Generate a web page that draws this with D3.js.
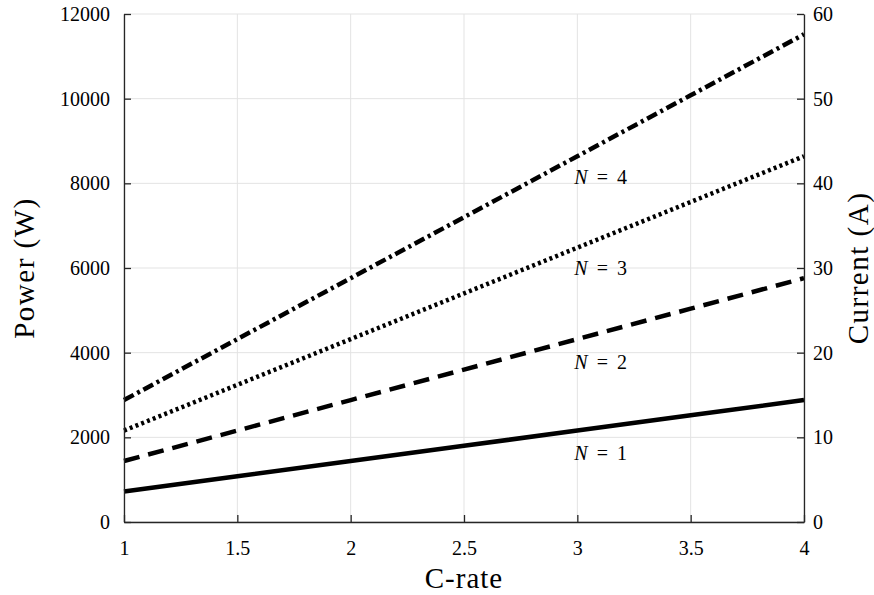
<!DOCTYPE html>
<html>
<head>
<meta charset="utf-8">
<script src="https://cdn.jsdelivr.net/npm/d3@7"></script>
<style>
  body { margin: 0; background: #fff; }
  svg text { font-family: 'Liberation Serif', 'Times New Roman', Times, 'DejaVu Serif', serif; fill: #000; }
</style>
</head>
<body>
<svg width="874" height="595"></svg>
<script>
// chart data
var cRate = [1, 1.5, 2, 2.5, 3, 3.5, 4];
var powerN1 = [720, 1080, 1440, 1800, 2160, 2520, 2880];
var powerN2 = [1440, 2160, 2880, 3600, 4320, 5040, 5760];
var powerN3 = [2160, 3240, 4320, 5400, 6480, 7560, 8640];
var powerN4 = [2880, 4320, 5760, 7200, 8640, 10080, 11520];
var seriesNames = ['N = 1', 'N = 2', 'N = 3', 'N = 4'];
var labelY = [1620, 3780, 6000, 8150];   // where the N labels sit (W), at C-rate 3
var xTicks = [1, 1.5, 2, 2.5, 3, 3.5, 4];
var powerTicks = [0, 2000, 4000, 6000, 8000, 10000, 12000];
var currentTicks = [0, 10, 20, 30, 40, 50, 60];

var dashes = ['none', '16,9', '3,3.2', '11,4,3,4'];
var serif = "'Liberation Serif', 'Times New Roman', Times, 'DejaVu Serif', serif";

var svg = d3.select('svg');
var padding = {t: 14, r: 70, b: 73, l: 124};
var chartWidth = +svg.attr('width') - padding.l - padding.r;
var chartHeight = +svg.attr('height') - padding.t - padding.b;

var chartG = svg.append('g')
    .attr('transform', 'translate(' + [padding.l, padding.t] + ')');

var xScale = d3.scaleLinear().domain([1, 4]).range([0, chartWidth]);
var yScale = d3.scaleLinear().domain([0, 12000]).range([chartHeight, 0]);
var yScaleR = d3.scaleLinear().domain([0, 60]).range([chartHeight, 0]);

// grid
chartG.append('g').selectAll('line')
    .data(xTicks).enter().append('line')
    .attr('x1', function(d) { return xScale(d); })
    .attr('x2', function(d) { return xScale(d); })
    .attr('y1', 0).attr('y2', chartHeight)
    .style('stroke', '#e3e3e3').style('stroke-width', 1);
chartG.append('g').selectAll('line')
    .data(powerTicks).enter().append('line')
    .attr('y1', function(d) { return yScale(d); })
    .attr('y2', function(d) { return yScale(d); })
    .attr('x1', 0).attr('x2', chartWidth)
    .style('stroke', '#e3e3e3').style('stroke-width', 1);

// lines
var allSeries = [powerN1, powerN2, powerN3, powerN4];
var line = d3.line()
    .x(function(d, i) { return xScale(cRate[i]); })
    .y(function(d) { return yScale(d); });

allSeries.forEach(function(s, k) {
    chartG.append('path')
        .datum(s)
        .attr('d', line)
        .style('fill', 'none')
        .style('stroke', '#000')
        .style('stroke-width', 4.5)
        .style('stroke-dasharray', dashes[k]);
});

// N labels
seriesNames.forEach(function(name, k) {
    var t = chartG.append('text')
        .attr('x', xScale(3) - 3)
        .attr('y', yScale(labelY[k]))
        .attr('dy', '0.35em')
        .attr('font-family', serif)
        .style('font-size', '20px');
    t.append('tspan').style('font-style', 'italic').text('N');
    t.append('tspan').attr('dx', 9).text('=');
    t.append('tspan').attr('dx', 9).text(name.split('= ')[1]);
});

// axes
function styleAxis(g) {
    g.attr('font-family', serif).attr('font-size', 20);
    g.select('.domain').style('stroke', '#262626').style('stroke-width', 1.3);
    g.selectAll('.tick line').style('stroke', '#262626').style('stroke-width', 1.3);
    g.selectAll('.tick text').attr('fill', '#000');
}

var xAx = chartG.append('g')
    .attr('transform', 'translate(' + [0, chartHeight] + ')')
    .call(d3.axisBottom(xScale).tickValues(xTicks).tickSize(-7).tickSizeOuter(0)
        .tickPadding(19).tickFormat(d3.format('')));
styleAxis(xAx);

var yAx = chartG.append('g')
    .call(d3.axisLeft(yScale).tickValues(powerTicks).tickSize(-7).tickSizeOuter(0)
        .tickPadding(14).tickFormat(d3.format('')));
styleAxis(yAx);

var yAxR = chartG.append('g')
    .attr('transform', 'translate(' + [chartWidth, 0] + ')')
    .call(d3.axisRight(yScaleR).tickValues(currentTicks).tickSize(-7).tickSizeOuter(0)
        .tickPadding(9).tickFormat(d3.format('')));
styleAxis(yAxR);

// axis titles
svg.append('text')
    .attr('transform', 'translate(' + [padding.l + chartWidth / 2, 588] + ')')
    .attr('text-anchor', 'middle')
    .attr('font-family', serif)
    .style('font-size', '29px')
    .style('letter-spacing', '1px')
    .text('C-rate');

svg.append('text')
    .attr('transform', 'translate(' + [34, padding.t + chartHeight / 2] + ') rotate(-90)')
    .attr('text-anchor', 'middle')
    .attr('font-family', serif)
    .style('font-size', '29px')
    .style('letter-spacing', '1.5px')
    .text('Power (W)');

svg.append('text')
    .attr('transform', 'translate(' + [868, padding.t + chartHeight / 2] + ') rotate(-90)')
    .attr('text-anchor', 'middle')
    .attr('font-family', serif)
    .style('font-size', '29px')
    .style('letter-spacing', '1.5px')
    .text('Current (A)');
</script>
</body>
</html>
